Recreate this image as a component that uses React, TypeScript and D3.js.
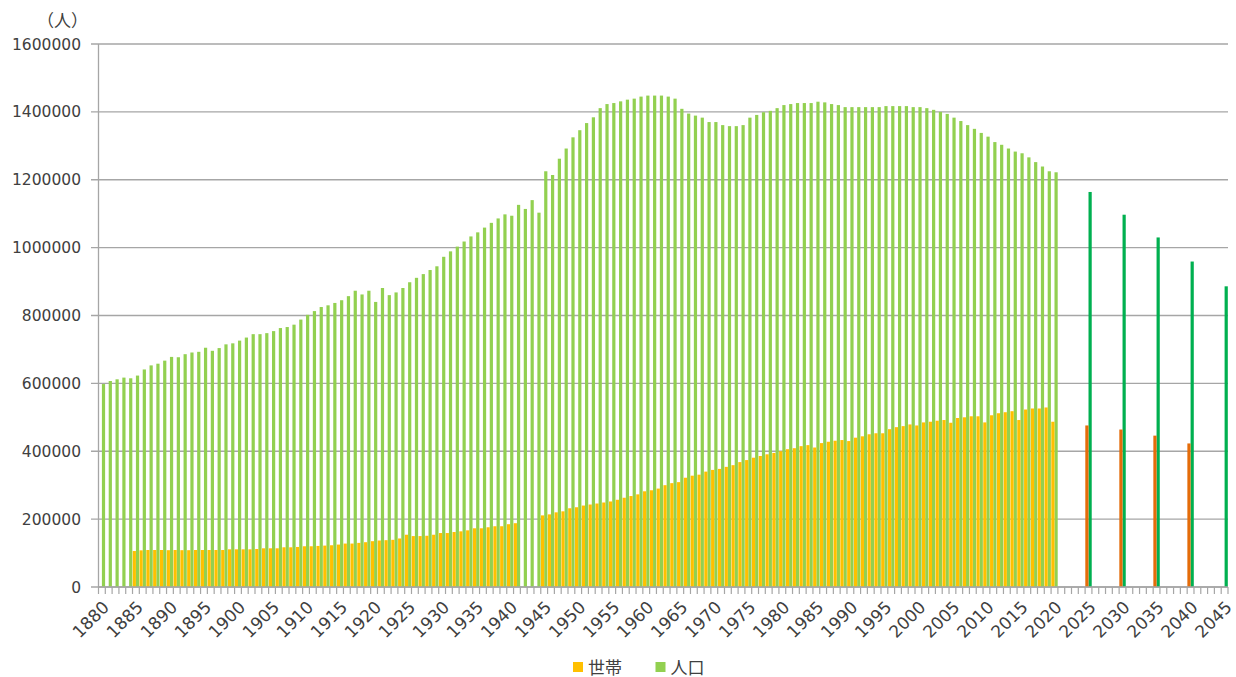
import React from "react";
import * as d3 from "d3";

// ---- data ----
const firstYear = 1880;
const lastYear = 2045;

// 人口 (population) 1880-2020
const popActual: number[] = [
  598000, 607000, 612000, 617000, 615000, 623000, 641000, 653000, 658000, 667000, // 1880-1889
  678000, 677000, 686000, 691000, 693000, 705000, 696000, 704000, 715000, 718000, // 1890-1899
  726000, 735000, 745000, 745000, 748000, 754000, 763000, 766000, 773000, 788000, // 1900-1909
  802000, 813000, 825000, 830000, 837000, 845000, 857000, 873000, 862000, 873000, // 1910-1919
  840000, 881000, 860000, 868000, 881000, 898000, 911000, 922000, 934000, 945000, // 1920-1929
  973000, 989000, 1003000, 1018000, 1033000, 1045000, 1059000, 1073000, 1086000, 1098000, // 1930-1939
  1094000, 1126000, 1114000, 1140000, 1103000, 1225000, 1214000, 1262000, 1292000, 1325000, // 1940-1949
  1346000, 1367000, 1384000, 1411000, 1423000, 1426000, 1431000, 1436000, 1439000, 1445000, // 1950-1959
  1448000, 1448000, 1448000, 1445000, 1439000, 1409000, 1395000, 1389000, 1383000, 1370000, // 1960-1969
  1370000, 1361000, 1358000, 1358000, 1361000, 1383000, 1391000, 1399000, 1403000, 1411000, // 1970-1979
  1420000, 1423000, 1426000, 1426000, 1426000, 1430000, 1428000, 1423000, 1420000, 1414000, // 1980-1989
  1414000, 1414000, 1414000, 1414000, 1414000, 1417000, 1417000, 1417000, 1417000, 1414000, // 1990-1999
  1414000, 1411000, 1406000, 1400000, 1394000, 1383000, 1373000, 1361000, 1350000, 1338000, // 2000-2009
  1327000, 1311000, 1303000, 1292000, 1283000, 1278000, 1266000, 1252000, 1239000, 1225000, // 2010-2019
  1222000, // 2020
];

// 世帯 (households) 1885-2020
const hhFirstYear = 1885;
const hhActual: (number | null)[] = [
  106000, 108000, 109000, 109000, 109000, // 1885-1889
  108500, 109000, 108500, 108500, 109000, 109000, 109000, 109000, 109000, 111000, // 1890-1899
  111000, 111000, 111000, 112000, 114000, 114000, 114000, 117000, 117000, 118000, // 1900-1909
  120000, 120000, 121000, 122000, 123000, 125000, 128000, 128000, 130000, 132000, // 1910-1919
  135000, 137000, 138000, 139000, 143000, 154000, 150000, 150000, 151000, 154000, // 1920-1929
  159000, 159000, 162000, 164000, 167000, 173000, 173000, 176000, 179000, 179000, // 1930-1939
  185000, 188000, null, null, null, 211000, 214000, 220000, 223000, 232000, // 1940-1949
  235000, 240000, 243000, 246000, 249000, 252000, 257000, 263000, 268000, 273000, // 1950-1959
  282000, 285000, 290000, 300000, 306000, 309000, 322000, 328000, 331000, 340000, // 1960-1969
  345000, 348000, 354000, 359000, 368000, 374000, 381000, 386000, 391000, 395000, // 1970-1979
  400000, 406000, 409000, 415000, 418000, 411000, 424000, 428000, 431000, 433000, // 1980-1989
  430000, 440000, 444000, 450000, 453000, 453000, 465000, 471000, 474000, 479000, // 1990-1999
  476000, 485000, 487000, 490000, 492000, 484000, 498000, 500000, 503000, 503000, // 2000-2009
  485000, 506000, 512000, 515000, 518000, 492000, 523000, 526000, 526000, 529000, // 2010-2019
  487000, // 2020
];

// projections
const projYears = [2025, 2030, 2035, 2040, 2045];
const projPop = [1164000, 1097000, 1030000, 959000, 886000];
const projHH: (number | null)[] = [476000, 464000, 446000, 423000, null];

const yTicks = [0, 200000, 400000, 600000, 800000, 1000000, 1200000, 1400000, 1600000];
const legendItems = [
  { label: "世帯", color: "#FFC000" },
  { label: "人口", color: "#92D050" },
];

const C_HH = "#FFC000";
const C_POP = "#92D050";
const C_HH_P = "#E46C0A";
const C_POP_P = "#00B050";
const GRID = "#A6A6A6";
const TXT = "#404040";
const NUM_FONT = "'DejaVu Sans', sans-serif";
const JP_FONT = "'Noto Sans CJK JP', sans-serif";

export default function App() {
  const W = 1236;
  const H = 677;
  const left = 98.5;
  const right = 1228;
  const top = 44;
  const bottom = 587;

  const years = d3.range(firstYear, lastYear + 1);
  const x = d3.scaleBand<number>().domain(years).range([left, right]).padding(0);
  const bw = x.bandwidth();
  const sub = d3
    .scaleBand<string>()
    .domain(["hh", "pop"])
    .range([0, bw])
    .paddingInner(0)
    .paddingOuter(0.06);
  const y = d3.scaleLinear().domain([0, 1600000]).range([bottom, top]);

  type Bar = { year: number; key: string; v: number; color: string };
  const bars: Bar[] = [];
  popActual.forEach((v, i) => bars.push({ year: firstYear + i, key: "pop", v, color: C_POP }));
  hhActual.forEach((v, i) => {
    if (v != null) bars.push({ year: hhFirstYear + i, key: "hh", v, color: C_HH });
  });
  projYears.forEach((yr, i) => {
    bars.push({ year: yr, key: "pop", v: projPop[i], color: C_POP_P });
    const h = projHH[i];
    if (h != null) bars.push({ year: yr, key: "hh", v: h, color: C_HH_P });
  });

  const boundaries = d3.range(0, years.length + 1).map((i) => left + i * x.step());

  return (
    <svg
      width={W}
      height={H}
      style={{ position: "absolute", left: 0, top: 0, background: "#fff" }}
    >
      {/* gridlines */}
      {yTicks.map((t) => (
        <line key={"g" + t} x1={91} x2={right} y1={y(t)} y2={y(t)} stroke={GRID} strokeWidth={1.3} />
      ))}
      {/* y axis line */}
      <line x1={left} x2={left} y1={top} y2={bottom} stroke={GRID} strokeWidth={1.3} />
      {/* y labels */}
      {yTicks.map((t) => (
        <text
          key={"yl" + t}
          x={81}
          y={y(t)}
          dy="0.36em"
          textAnchor="end"
          fontFamily={NUM_FONT}
          fontSize={15.5}
          fill={TXT}
        >
          {t}
        </text>
      ))}
      <text x={88} y={27} textAnchor="end" fontFamily={JP_FONT} fontSize={17} fill={TXT}>
        （人）
      </text>

      {/* bars */}
      {bars.map((b) => (
        <rect
          key={b.key + b.year}
          x={(x(b.year) as number) + (sub(b.key) as number)}
          width={sub.bandwidth()}
          y={y(b.v)}
          height={bottom - y(b.v)}
          fill={b.color}
        />
      ))}

      {/* x ticks */}
      {boundaries.map((bx, i) => (
        <line key={"xt" + i} x1={bx} x2={bx} y1={bottom} y2={bottom + 7} stroke={GRID} strokeWidth={1.2} />
      ))}
      <line x1={left} x2={right} y1={bottom} y2={bottom} stroke={GRID} strokeWidth={1.3} />
      {/* x labels */}
      {years
        .filter((yr) => yr % 5 === 0)
        .map((yr) => {
          const cx = (x(yr) as number) + bw / 2;
          return (
            <text
              key={"xl" + yr}
              transform={`translate(${cx + 4},${bottom + 17}) rotate(-45)`}
              textAnchor="end"
              dy="0.36em"
              fontFamily={NUM_FONT}
              fontSize={17}
              fill={TXT}
            >
              {yr}
            </text>
          );
        })}

      {/* legend */}
      {legendItems.map((it, i) => {
        const lx = 573 + i * 82.5;
        return (
          <g key={"lg" + i}>
            <rect x={lx} y={662} width={10} height={10} fill={it.color} />
            <text x={lx + 15} y={673.5} fontFamily={JP_FONT} fontSize={17} fill={TXT}>
              {it.label}
            </text>
          </g>
        );
      })}
    </svg>
  );
}
